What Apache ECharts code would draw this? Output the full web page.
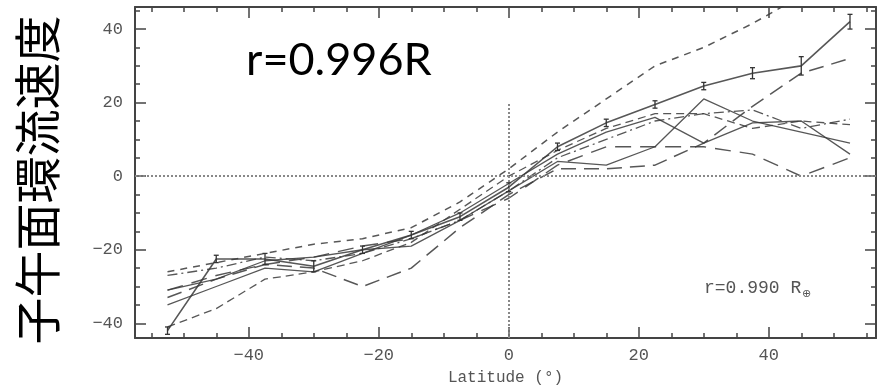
<!DOCTYPE html>
<html>
<head>
<meta charset="utf-8">
<script src="https://cdn.jsdelivr.net/npm/echarts@6/dist/echarts.min.js"></script>
<style>
  html, body { margin: 0; padding: 0; background: #fff; }
  #chart { width: 881px; height: 391px; }
</style>
</head>
<body>
<div id="chart"></div>
<script>
// latitude bins (deg)
const latitudes = [-52.5, -45, -37.5, -30, -22.5, -15, -7.5, 0, 7.5, 15, 22.5, 30, 37.5, 45, 52.5];

// meridional flow speed for each model
const flowSolidBars = [-42, -22.5, -22.5, -24.5, -20, -16, -11, -3, 8, 14.5, 19.5, 24.5, 28, 30, 42];
const flowErr = [1, 1, 1.5, 1.5, 1, 1, 1, 1.2, 1, 1, 1, 1, 1.5, 2.5, 2];
const flowShortDash = [-26, -23.5, -21, -18.5, -17, -14, -7, 2, 12, 21, 30, 35, 41.5, 49, null];
const flowLongDash = [-33, -28, -24, -25, -30, -25, -14, -5, 2, 2, 3, 9, 19, 28, 32];
const flowSolidPeak = [-31, -28, -23, -22, -20, -19, -12, -4, 4, 3, 8, 21, 15, 12, 9];
const flowSolidV = [-35, -30, -25, -26, -21, -16, -10, -2, 6, 12, 16, 9, 14.5, 15, 6];
const flowDashDot = [-27, -25, -22, -23, -21, -17, -12, -4, 5, 10, 15, 17, 18, 13, 15.5];
const flowMedDash = [-41, -36, -28, -26, -23, -18, -9, 0, 7, 13, 17, 17, 13, 15, 14];
const flowDip = [-31, -27, -24, -22, -19, -17, -12, -6, 3, 8, 8, 8, 6, 0, 5];

const yTicks = [-40, -20, 0, 20, 40];
const xTicks = [-40, -20, 0, 20, 40];

const monoFont = "Liberation Mono";
const inkColor = "#3a3a3a";

function pairs(vals) {
  return latitudes.map((x, i) => [x, vals[i]]).filter((p) => p[1] != null);
}

function tickFmt(ticks) {
  return function (v) {
    if (ticks.indexOf(v) < 0) return "";
    return v < 0 ? "\u2212" + Math.abs(v) : String(v);
  };
}

function lineSeries(vals, dash, width) {
  return {
    type: "line",
    data: pairs(vals),
    showSymbol: false,
    symbol: "none",
    lineStyle: { color: inkColor, width: width || 1.3, type: dash || "solid", opacity: 0.85 },
    z: 3,
  };
}

const axisLine = { show: true, onZero: false, lineStyle: { color: "#444", width: 2 } };
const majorTick = { show: true, inside: true, length: 11, lineStyle: { color: "#444", width: 1.5 } };
const minorTick = { show: true, splitNumber: 4, length: 5, lineStyle: { color: "#444", width: 1.5 } };

const chart = echarts.init(document.getElementById("chart"));

const options = {
  backgroundColor: "#fff",
  animation: false,
  grid: { left: 135, right: 5, top: 7, bottom: 48 },
  xAxis: [
    {
      type: "value",
      position: "bottom",
      min: -57.5,
      max: 56.5,
      axisLine: axisLine,
      axisTick: majorTick,
      minorTick: minorTick,
      splitLine: { show: false },
      axisLabel: { color: "#555", fontFamily: monoFont, fontSize: 17, margin: 9, formatter: tickFmt(xTicks) },
      name: "Latitude (°)",
      nameLocation: "middle",
      nameGap: 32,
      nameTextStyle: { color: "#555", fontFamily: monoFont, fontSize: 16 },
    },
    {
      type: "value",
      position: "top",
      min: -57.5,
      max: 56.5,
      axisLine: axisLine,
      axisTick: majorTick,
      minorTick: minorTick,
      splitLine: { show: false },
      axisLabel: { show: false },
    },
  ],
  yAxis: [
    {
      type: "value",
      position: "left",
      min: -44,
      max: 46,
      axisLine: axisLine,
      axisTick: majorTick,
      minorTick: minorTick,
      splitLine: { show: false },
      axisLabel: { color: "#555", fontFamily: monoFont, fontSize: 17, margin: 12, formatter: tickFmt(yTicks) },
    },
    {
      type: "value",
      position: "right",
      min: -44,
      max: 46,
      axisLine: axisLine,
      axisTick: majorTick,
      minorTick: minorTick,
      splitLine: { show: false },
      axisLabel: { show: false },
    },
  ],
  graphic: [
    {
      type: "text",
      x: 37,
      y: 180,
      rotation: Math.PI / 2,
      style: {
        text: "子午面環流速度",
        fontFamily: "Noto Sans CJK JP",
        fontSize: 47,
        fill: "#000",
        align: "center",
        verticalAlign: "middle",
      },
    },
    {
      type: "text",
      x: 246,
      y: 60,
      style: {
        text: "r=0.996R",
        fontFamily: "Lato",
        fontSize: 45,
        fill: "#000",
        align: "left",
        verticalAlign: "middle",
      },
    },
    {
      type: "text",
      x: 704,
      y: 288,
      style: {
        text: "r=0.990 R",
        fontFamily: monoFont,
        fontSize: 18,
        fill: "#555",
        align: "left",
        verticalAlign: "middle",
      },
    },
    {
      type: "text",
      x: 802,
      y: 294,
      style: {
        text: "⊕",
        fontFamily: "DejaVu Sans",
        fontSize: 11,
        fill: "#555",
        align: "left",
        verticalAlign: "middle",
      },
    },
  ],
  series: [
    Object.assign(lineSeries(flowSolidBars, "solid", 1.6), {
      markLine: {
        silent: true,
        symbol: "none",
        label: { show: false },
        lineStyle: { color: "#888", type: [2, 2], width: 2 },
        data: [
          { yAxis: 0 },
          [{ coord: [0, -44] }, { coord: [0, 20] }],
        ],
      },
    }),
    {
      type: "custom",
      data: latitudes.map((x, i) => [x, flowSolidBars[i], flowErr[i]]),
      encode: { x: 0, y: 1 },
      z: 4,
      renderItem: function (params, api) {
        const x = api.value(0);
        const y = api.value(1);
        const e = api.value(2);
        const top = api.coord([x, y + e]);
        const bot = api.coord([x, y - e]);
        const st = { stroke: "#333", lineWidth: 1.3 };
        return {
          type: "group",
          children: [
            { type: "line", shape: { x1: top[0], y1: top[1], x2: bot[0], y2: bot[1] }, style: st },
            { type: "line", shape: { x1: top[0] - 2.5, y1: top[1], x2: top[0] + 2.5, y2: top[1] }, style: st },
            { type: "line", shape: { x1: bot[0] - 2.5, y1: bot[1], x2: bot[0] + 2.5, y2: bot[1] }, style: st },
          ],
        };
      },
    },
    lineSeries(flowShortDash, [7, 6], 1.5),
    lineSeries(flowLongDash, [15, 8], 1.5),
    lineSeries(flowSolidPeak, "solid", 1.3),
    lineSeries(flowSolidV, "solid", 1.3),
    lineSeries(flowDashDot, [10, 4, 2, 4], 1.3),
    lineSeries(flowMedDash, [8, 5], 1.3),
    lineSeries(flowDip, [16, 9], 1.4),
  ],
};

chart.setOption(options);
</script>
</body>
</html>
